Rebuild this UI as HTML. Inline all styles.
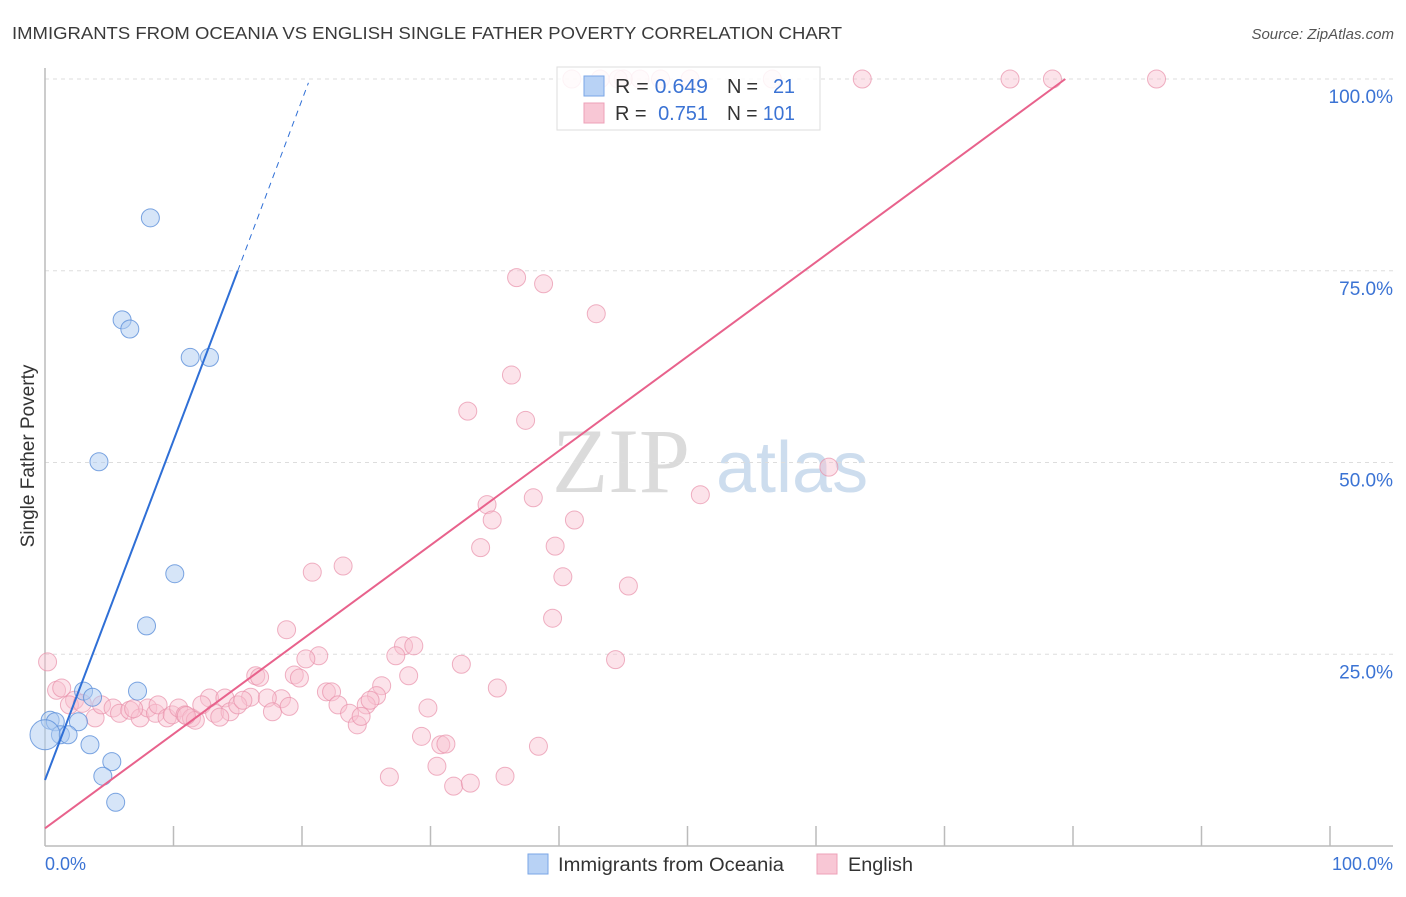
<!DOCTYPE html>
<html><head><meta charset="utf-8"><style>
body{margin:0;background:#fff;font-family:"Liberation Sans",sans-serif;}
</style></head><body>
<svg id="chart" width="1406" height="892" viewBox="0 0 1406 892" xmlns="http://www.w3.org/2000/svg" font-family="Liberation Sans, sans-serif">
<text x="12" y="39" font-size="17.5" fill="#3a3a3a" textLength="830" lengthAdjust="spacingAndGlyphs">IMMIGRANTS FROM OCEANIA VS ENGLISH SINGLE FATHER POVERTY CORRELATION CHART</text>
<text x="1394" y="39" font-size="15" fill="#555" font-style="italic" text-anchor="end">Source: ZipAtlas.com</text>
<g>
<text x="552" y="492" font-size="92" fill="#cfcfcf" style="font-family:'Liberation Serif',serif" opacity="0.75">ZIP</text>
<text x="716" y="492" font-size="72" fill="#b9cfe8" opacity="0.7">atlas</text>
</g>
<g id="grid"></g>
<g id="axes">
<line x1="45" y1="68" x2="45" y2="846" stroke="#bbb" stroke-width="1.5"/>
<line x1="45" y1="846" x2="1393" y2="846" stroke="#bbb" stroke-width="1.5"/>
</g>
<g id="pts"></g>
<g id="lines"></g>
<text x="34" y="456" font-size="19" fill="#333" transform="rotate(-90 34 456)" text-anchor="middle">Single Father Poverty</text>
<text x="45" y="870" font-size="18" fill="#3b73d4">0.0%</text>
<text x="1393" y="870" font-size="18" fill="#3b73d4" text-anchor="end">100.0%</text>
<g>
<rect x="557" y="67" width="263" height="63" fill="#fff" fill-opacity="0.85" stroke="#ddd"/>
<rect x="584" y="76" width="20" height="20" fill="#b8d2f5" stroke="#7aa6e6"/>
<rect x="584" y="103" width="20" height="20" fill="#f8c7d5" stroke="#eea0b8"/>
<text x="615" y="93" font-size="20" fill="#333" textLength="93" lengthAdjust="spacingAndGlyphs">R = <tspan fill="#3b73d4">0.649</tspan></text>
<text x="727" y="93" font-size="20" fill="#333" textLength="68" lengthAdjust="spacing">N = <tspan fill="#3b73d4" dx="10">21</tspan></text>
<text x="615" y="120" font-size="20" fill="#333" textLength="93" lengthAdjust="spacing">R = <tspan fill="#3b73d4" dx="6">0.751</tspan></text>
<text x="727" y="120" font-size="20" fill="#333" textLength="68" lengthAdjust="spacingAndGlyphs">N = <tspan fill="#3b73d4">101</tspan></text>
</g>
<g>
<rect x="528" y="854" width="20" height="20" fill="#b8d2f5" stroke="#7aa6e6"/>
<text x="558" y="871" font-size="19" fill="#333" textLength="226" lengthAdjust="spacingAndGlyphs">Immigrants from Oceania</text>
</g>
<g>
<rect x="817" y="854" width="20" height="20" fill="#f8c7d5" stroke="#eea0b8"/>
<text x="848" y="871" font-size="19" fill="#333" textLength="65" lengthAdjust="spacingAndGlyphs">English</text>
</g>
</svg>
<script>
const yTicks=[25,50,75,100];
const yTickLabels=["25.0%","50.0%","75.0%","100.0%"];
const xTicks=[10,20,30,40,50,60,70,80,90,100];
const blueX=[8.2,6.0,6.6,11.3,12.8,4.2,10.1,7.9,7.2,3.0,3.7,0.4,0.8,2.6,1.2,1.8,3.5,5.2,4.5,5.5,0.0];
const blueY=[81.9,68.6,67.4,63.7,63.7,50.1,35.5,28.7,20.2,20.2,19.4,16.4,16.2,16.2,14.5,14.5,13.2,11.0,9.1,5.7,14.5];
const pinkX=[41.0,43.2,46.3,47.9,50.2,56.6,63.6,75.1,78.4,86.5,36.7,38.8,42.9,36.3,32.9,37.4,61.0,51.0,38.0,34.4,34.8,41.2,39.7,33.9,23.2,20.8,40.3,45.4,39.5,18.8,0.2,27.9,28.7,27.3,21.3,20.3,44.4,32.4,16.4,16.7,19.4,19.8,28.3,26.2,35.2,0.9,1.3,21.9,22.3,25.8,12.8,16.0,18.4,2.3,1.9,2.9,3.9,4.4,5.3,5.8,6.6,7.4,8.0,8.6,8.8,9.5,9.9,10.4,10.9,11.4,11.7,12.2,13.2,14.0,14.4,15.0,15.4,17.3,17.7,22.8,23.7,24.3,25.0,25.3,29.8,29.3,30.8,31.2,30.5,26.8,31.8,33.1,35.8,38.4,45.0,44.6,11.0,13.6,6.9,19.0,24.6];
const pinkY=[100,100,100,100,100,100,100,100,100,100,74.1,73.3,69.4,61.4,56.7,55.5,49.4,45.8,45.4,44.5,42.5,42.5,39.1,38.9,36.5,35.7,35.1,33.9,29.7,28.2,24.0,26.1,26.1,24.8,24.8,24.4,24.3,23.7,22.2,22.0,22.3,21.9,22.2,20.9,20.6,20.3,20.6,20.1,20.1,19.6,19.3,19.4,19.2,19.0,18.4,18.6,16.7,18.4,18.0,17.3,17.7,16.7,18.0,17.3,18.4,16.7,17.1,18.0,17.1,16.7,16.4,18.4,17.3,19.3,17.5,18.4,19.0,19.3,17.5,18.4,17.3,15.8,18.4,19.0,18.0,14.3,13.2,13.3,10.4,9.0,7.8,8.2,9.1,13.0,100,100,17.0,16.8,17.9,18.2,16.9];
const blueLine=[0,8.6,15,75,20.5,99.5];
const pinkLine=[0,2.3,79.4,100];
const NS="http://www.w3.org/2000/svg";
const X0=45,X1=1330,Y0=846,Y1=79;
function sx(v){return X0+(X1-X0)*v/100;}
function sy(v){return Y0-(Y0-Y1)*v/100;}
function mk(tag,attrs,parent){const e=document.createElementNS(NS,tag);for(const k in attrs)e.setAttribute(k,attrs[k]);parent.appendChild(e);return e;}
const grid=document.getElementById('grid');
yTicks.forEach((t,i)=>{
  const l=mk('line',{x1:45,x2:1393,y1:sy(t),y2:sy(t),stroke:'#ddd','stroke-dasharray':'4 4'},grid);
  
  
  const tx=mk('text',{x:1393,y:sy(t)+24,'font-size':19,fill:'#3b73d4','text-anchor':'end'},grid);
  tx.textContent=yTickLabels[i];
  
  
});
xTicks.forEach(t=>{
  const l=mk('line',{x1:sx(t),x2:sx(t),y1:826,y2:846,stroke:'#bbb','stroke-width':1.5},grid);
  
  
});
const pts=document.getElementById('pts');
pinkX.forEach((x,i)=>{
  const c=mk('circle',{cx:sx(x),cy:sy(pinkY[i]),r:9,fill:'#f8c0d0',stroke:'#e890aa','fill-opacity':0.45,'stroke-opacity':0.7},pts);
  
  
});
blueX.forEach((x,i)=>{
  const c=mk('circle',{cx:sx(x),cy:sy(blueY[i]),r:i===20?15:9,fill:'#aecbf2',stroke:'#5b8fd9','fill-opacity':0.5,'stroke-opacity':0.8},pts);
  
  
});
const lines=document.getElementById('lines');
const b1=mk('line',{x1:sx(blueLine[0]),y1:sy(blueLine[1]),x2:sx(blueLine[2]),y2:sy(blueLine[3]),stroke:'#2f6fd6','stroke-width':2},lines);


const b2=mk('line',{x1:sx(blueLine[2]),y1:sy(blueLine[3]),x2:sx(blueLine[4]),y2:sy(blueLine[5]),stroke:'#2f6fd6','stroke-width':1,'stroke-dasharray':'6 5'},lines);


const p1=mk('line',{x1:sx(pinkLine[0]),y1:sy(pinkLine[1]),x2:sx(pinkLine[2]),y2:sy(pinkLine[3]),stroke:'#e8628c','stroke-width':2},lines);


</script>
</body></html>
